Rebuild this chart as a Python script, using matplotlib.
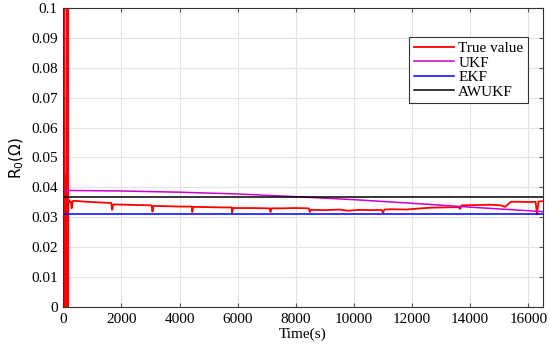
import matplotlib
matplotlib.use("Agg")
import matplotlib.pyplot as plt
import numpy as np

# red "true value" trace, hand-read breakpoints (time s, R0 ohm)
true_t = [0, 10, 20, 30, 40, 60, 80, 100, 120, 140, 150, 160, 175,
          200, 260, 290, 320, 400, 800, 1200, 1650, 1680, 1720, 2200, 2600, 3040,
          3070, 3100, 3600, 4000, 4420, 4440, 4470, 5000, 5500, 5790, 5810, 5840,
          6400, 7100, 7130, 7160, 7500, 8000, 8450, 8480, 8520, 9000, 9500, 9800,
          10200, 10600, 10950, 11000, 11050, 11300, 11800, 12300, 12600, 13000,
          13600, 13650, 13700, 14200, 14700, 15050, 15200, 15400, 15700, 16000,
          16250, 16300, 16350, 16500]
true_v = [0.0, 0.12, 0.0, 0.12, 0.0, 0.044, 0.033, 0.0, 0.12, 0.0, 0.12, 0.0, 0.036,
          0.0352, 0.0353, 0.0330, 0.0354, 0.0355, 0.0352, 0.0350, 0.0348, 0.0325, 0.0343,
          0.0342, 0.0341, 0.0340, 0.0319, 0.0338, 0.0337, 0.0336, 0.0336, 0.0318, 0.0335,
          0.0334, 0.0333, 0.0333, 0.0316, 0.0331, 0.0331, 0.0330, 0.0318, 0.0330,
          0.0330, 0.0331, 0.0330, 0.0318, 0.0325, 0.0324, 0.0326, 0.0322,
          0.0325, 0.0324, 0.0325, 0.0315, 0.0326, 0.0327, 0.0326, 0.0330, 0.0332, 0.0333,
          0.0334, 0.0328, 0.0340, 0.0341, 0.0342, 0.0340, 0.0335, 0.0352, 0.0352, 0.0351,
          0.0352, 0.0310, 0.0353, 0.0354]

ukf_t = [0, 2000, 4000, 6000, 8000, 10000, 12000, 14000, 16500]
ukf_v = [0.0390, 0.0388, 0.0384, 0.0378, 0.0369, 0.0359, 0.0347, 0.0334, 0.0319]

ekf_t = [0, 16500]
ekf_v = [0.0311, 0.0311]
awukf_t = [0, 16500]
awukf_v = [0.0369, 0.0369]

fig = plt.figure(figsize=(5.5, 3.45), dpi=100)
ax = fig.add_axes([0.115, 0.11, 0.872, 0.867])

ax.plot(true_t, true_v, color='#ff0000', lw=1.3, label='True value')
ax.plot(ukf_t, ukf_v, color='#cc00cc', lw=1.1, label='UKF')
ax.plot(ekf_t, ekf_v, color='#0000ff', lw=1.1, label='EKF')
ax.plot(awukf_t, awukf_v, color='#000000', lw=1.1, label='AWUKF')

ax.set_xlim(0, 16500)
ax.set_ylim(0, 0.1)
ax.set_xticks(np.arange(0, 16001, 2000))
ax.set_yticks(np.arange(0, 0.1001, 0.01))
ax.set_yticklabels(['0', '0.01', '0.02', '0.03', '0.04', '0.05', '0.06',
                    '0.07', '0.08', '0.09', '0.1'])
ax.grid(True, color='#e3e3e3', lw=0.8)
ax.tick_params(direction='in', top=True, right=True, length=3, color='#555555',
               labelsize=11, pad=4)
for lab in ax.get_xticklabels() + ax.get_yticklabels():
    lab.set_family('Liberation Serif')
for s in ax.spines.values():
    s.set_color('#333333')
    s.set_linewidth(0.8)

ax.set_xlabel('Time(s)', family='Liberation Serif', fontsize=11, labelpad=1.5)
ax.set_ylabel(r'R$_0$($\Omega$)', family='DejaVu Sans', fontsize=11, labelpad=4)

leg = ax.legend(loc='upper right', bbox_to_anchor=(0.969, 0.903),
                prop={'family': 'Liberation Serif', 'size': 11},
                fancybox=False, edgecolor='#333333', framealpha=1,
                handlelength=2.6, handletextpad=0.3, labelspacing=0.05,
                borderpad=0.3, borderaxespad=0)
leg.get_frame().set_linewidth(0.8)

fig.savefig('out.png', dpi=100)
